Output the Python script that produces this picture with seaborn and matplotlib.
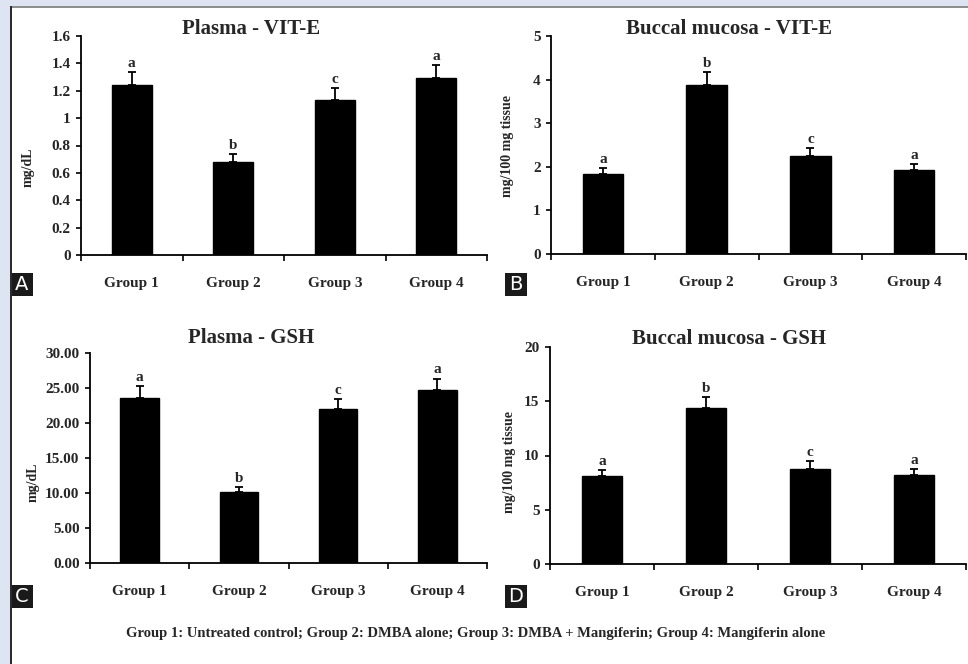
import numpy as np
import pandas as pd
import matplotlib
matplotlib.use("Agg")
import matplotlib.pyplot as plt
from matplotlib.patches import Rectangle
import seaborn as sns

sns.set_theme(style="white")
plt.rcParams["font.family"] = ["Liberation Serif", "DejaVu Serif"]
plt.rcParams["font.weight"] = "bold"

groups = ["Group 1", "Group 2", "Group 3", "Group 4"]

plasma_vite = [1.24, 0.68, 1.13, 1.29]
plasma_vite_err = [0.10, 0.06, 0.09, 0.10]
plasma_vite_sig = ["a", "b", "c", "a"]

buccal_vite = [1.84, 3.87, 2.25, 1.93]
buccal_vite_err = [0.14, 0.30, 0.17, 0.14]
buccal_vite_sig = ["a", "b", "c", "a"]

plasma_gsh = [23.55, 10.15, 21.95, 24.65]
plasma_gsh_err = [1.75, 0.75, 1.50, 1.70]
plasma_gsh_sig = ["a", "b", "c", "a"]

buccal_gsh = [8.15, 14.35, 8.80, 8.20]
buccal_gsh_err = [0.55, 1.05, 0.68, 0.55]
buccal_gsh_sig = ["a", "b", "c", "a"]

footer = ("Group 1: Untreated control; Group 2: DMBA alone; "
          "Group 3: DMBA + Mangiferin; Group 4: Mangiferin alone")

W, H = 968, 664
fig = plt.figure(figsize=(W / 100, H / 100), dpi=100)
fig.patch.set_facecolor("white")


def px_axes(left, right, top, bottom):
    return fig.add_axes([left / W, 1 - bottom / H, (right - left) / W, (bottom - top) / H])


panels = [
    dict(box=(81, 487, 36, 255), vals=plasma_vite, err=plasma_vite_err, sig=plasma_vite_sig,
         title="Plasma - VIT-E", titlepos=(251, 34),
         ylabel="mg/dL", ylim=1.6, yticks=np.arange(0, 1.61, 0.2),
         fmt=lambda v: f"{v:g}", tag="A", tagpos=(11, 273), labpos=(28, 167)),
    dict(box=(551, 966, 36, 254), vals=buccal_vite, err=buccal_vite_err, sig=buccal_vite_sig,
         title="Buccal mucosa - VIT-E", titlepos=(729, 34),
         ylabel="mg/100 mg tissue", ylim=5, yticks=np.arange(0, 6, 1),
         fmt=lambda v: f"{v:g}", tag="B", tagpos=(505, 273), labpos=(507, 146)),
    dict(box=(90, 487, 353, 563), vals=plasma_gsh, err=plasma_gsh_err, sig=plasma_gsh_sig,
         title="Plasma - GSH", titlepos=(251, 343),
         ylabel="mg/dL", ylim=30, yticks=np.arange(0, 31, 5),
         fmt=lambda v: f"{v:.2f}", tag="C", tagpos=(11, 585), labpos=(33, 482)),
    dict(box=(550, 966, 347, 564), vals=buccal_gsh, err=buccal_gsh_err, sig=buccal_gsh_sig,
         title="Buccal mucosa - GSH", titlepos=(729, 344),
         ylabel="mg/100 mg tissue", ylim=20, yticks=np.arange(0, 21, 5),
         fmt=lambda v: f"{v:g}", tag="D", tagpos=(505, 585), labpos=(509, 462)),
]

for p in panels:
    ax = px_axes(*p["box"])
    df = pd.DataFrame({"group": groups, "value": p["vals"]})
    sns.barplot(data=df, x="group", y="value", color="black", width=0.39,
                edgecolor="black", saturation=1, errorbar=None, ax=ax)
    xs = np.arange(len(groups))
    err = np.array(p["err"])
    ax.errorbar(xs, p["vals"], yerr=[np.zeros_like(err), err], fmt="none",
                ecolor="black", elinewidth=1.3, capsize=2.6, capthick=1.3)
    for x, v, e, s in zip(xs, p["vals"], err, p["sig"]):
        ax.annotate(s, (x, v + e), xytext=(0, 1.5), textcoords="offset points",
                    ha="center", va="bottom", fontsize=11, fontweight="bold")
    ax.set_xlim(-0.5, len(groups) - 0.5)
    ax.set_ylim(0, p["ylim"])
    ax.set_yticks(p["yticks"])
    ax.set_yticklabels([p["fmt"](v) for v in p["yticks"]], fontsize=11, fontweight="bold")
    ax.set_xticks(np.arange(-0.5, len(groups), 1.0))
    ax.set_xticklabels([])
    ax.set_xticks(xs, minor=True)
    ax.set_xticklabels(groups, minor=True, fontsize=11, fontweight="bold")
    ax.tick_params(axis="x", which="major", direction="out", length=4, width=1.2,
                   color="black", bottom=True)
    ax.tick_params(axis="x", which="minor", length=0, pad=16)
    ax.tick_params(axis="y", direction="out", length=3.5, width=1.2, color="black",
                   left=True, pad=4)
    ax.set_xlabel("")
    ax.set_ylabel("")
    ax.set_facecolor("white")
    for side in ("top", "right"):
        ax.spines[side].set_visible(False)
    for side in ("left", "bottom"):
        ax.spines[side].set_color("black")
        ax.spines[side].set_linewidth(1.3)

    # panel title
    px, py = p["titlepos"]
    fig.text(px / W, 1 - py / H, p["title"], ha="center", va="baseline",
             fontsize=15, fontweight="bold")

    # y-axis unit label
    lx, ly = p["labpos"]
    fig.text(lx / W, 1 - ly / H, p["ylabel"], rotation=90, ha="center", va="center",
             fontsize=10, fontweight="bold")

    # panel tag in a black box
    tx, ty = p["tagpos"]
    fig.add_artist(Rectangle((tx / W, 1 - (ty + 23) / H), 22 / W, 23 / H,
                             transform=fig.transFigure, facecolor="#1a1a1a",
                             edgecolor="none"))
    fig.text((tx + 11) / W, 1 - (ty + 11.5) / H, p["tag"], color="white",
             fontsize=14, ha="center", va="center", fontweight="normal",
             family=["DejaVu Sans"])

fig.text(476 / W, 1 - 633 / H, footer, ha="center", va="center",
         fontsize=10.5, fontweight="bold")

# page frame: tinted margin on top and left with rules
fig.add_artist(Rectangle((0, 1 - 6 / H), 1, 6 / H, transform=fig.transFigure,
                         facecolor="#dfe4f3", edgecolor="none"))
fig.add_artist(Rectangle((0, 0), 10 / W, 1, transform=fig.transFigure,
                         facecolor="#dfe4f3", edgecolor="none"))
fig.add_artist(Rectangle((10 / W, 1 - 7.5 / H), 1, 1.5 / H, transform=fig.transFigure,
                         facecolor="#8e8e8e", edgecolor="none"))
fig.add_artist(Rectangle((10 / W, 0), 1.5 / W, 1 - 6 / H, transform=fig.transFigure,
                         facecolor="#2b2b2b", edgecolor="none"))

fig.savefig("out.png", dpi=100, facecolor="white")
